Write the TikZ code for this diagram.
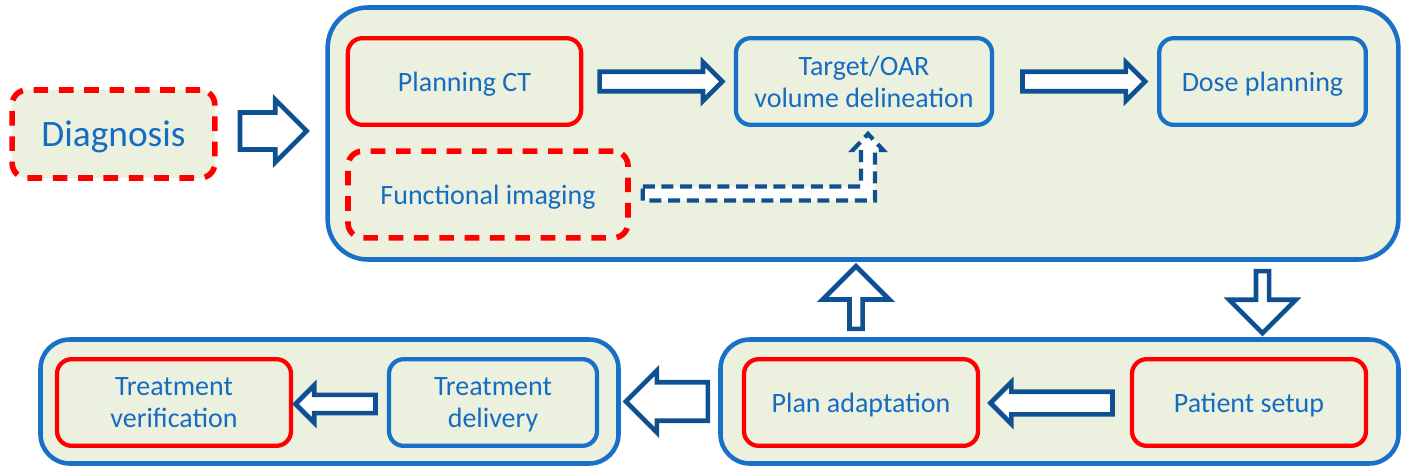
\documentclass[tikz,border=0pt]{standalone}
\usepackage{fontspec}
\setmainfont{Carlito}
\usetikzlibrary{shapes.arrows,calc,positioning}

\definecolor{boxfill}{RGB}{235,241,222}
\definecolor{boxblue}{RGB}{25,112,200}
\definecolor{txtblue}{RGB}{22,108,192}
\definecolor{arrblue}{RGB}{14,80,145}
\definecolor{boxred}{RGB}{255,0,0}

\tikzset{
  box/.style={draw, fill=boxfill, line width=3.2pt, rounded corners=11pt,
    minimum height=65pt, text=txtblue, align=center, text depth=0pt,
    font=\fontsize{21}{24}\selectfont},
  redbox/.style={box, draw=boxred},
  bluebox/.style={box, draw=boxblue},
  dashbox/.style={redbox, line width=4.2pt, dash pattern=on 11pt off 8pt},
  panel/.style={draw=boxblue, fill=boxfill, line width=3.4pt, rounded corners=22pt},
  blk/.style={single arrow, draw=arrblue, fill=white, line width=3.5pt,
    single arrow tip angle=90, single arrow head indent=0pt, inner xsep=0pt,
    anchor=tail},
  dashflow/.style={draw=arrblue, fill=white, line width=3.2pt,
    dash pattern=on 9pt off 5pt, line join=miter}
}

\begin{document}
\begin{tikzpicture}[x=0.75pt, y=-0.75pt]
\useasboundingbox (0,0) rectangle (1404,468);

% panels
\node[panel, rounded corners=30pt, minimum width=803pt, minimum height=189pt] (toppanel) at (863,133.5) {};
\node[panel, minimum width=508.5pt, minimum height=93pt] (rightpanel) at (1059.5,401.5) {};
\node[panel, minimum width=433.5pt, minimum height=93pt] (leftpanel) at (329.5,401.5) {};

% boxes
\node[dashbox, minimum width=152pt, minimum height=66pt, font=\fontsize{28}{32}\selectfont] (diag) at (113.5,134) {Diagnosis};
\node[redbox, minimum width=175pt] (pct) at (464.5,81.5) {Planning CT};
\node[bluebox, minimum width=192pt] (target) at (864,81.5) {Target/OAR\\volume delineation};
\node[bluebox, minimum width=155pt] (dose) at (1262.5,81.5) {Dose planning};
\node[dashbox, minimum width=210pt] (func) at (488,194.5) {Functional imaging};
\node[redbox, minimum width=175.5pt] (adapt) at (861,402.5) {Plan adaptation};
\node[redbox, minimum width=175.5pt] (setup) at (1249,402.5) {Patient setup};
\node[redbox, minimum width=175.5pt] (verif) at (174,402.5) {Treatment\\verification};
\node[bluebox, minimum width=156pt] (deliv) at (493,402.5) {Treatment\\delivery};

% block arrows
\node[blk, minimum height=50pt, minimum width=47pt, inner ysep=8.6pt] (a0)
  at ($(diag.east)+(20,-3)$) {};
\node[blk, minimum height=92pt, minimum width=28pt, inner ysep=5.6pt] (a1)
  at ($(pct.east)+(14,0)$) {};
\node[blk, minimum height=92pt, minimum width=28pt, inner ysep=5.6pt] (a2)
  at ($(target.east)+(26,0)$) {};
\node[blk, shape border rotate=270, minimum height=46.5pt, minimum width=50pt, inner ysep=12pt] (a3)
  at ($(dose.south |- toppanel.south)+(0,7)$) {};
\node[blk, shape border rotate=90, minimum height=47pt, minimum width=50pt, inner ysep=11pt] (a4)
  at ($(adapt.north |- rightpanel.north)+(-5,-6)$) {};
\node[blk, shape border rotate=180, minimum height=61.5pt, minimum width=46.5pt, inner ysep=10pt] (a5)
  at ($(rightpanel.west)+(-8,0)$) {};
\node[blk, shape border rotate=180, minimum height=91.5pt, minimum width=28pt, inner ysep=6.75pt] (a6)
  at ($(setup.west)+(-15,0.5)$) {};
\node[blk, shape border rotate=180, minimum height=60pt, minimum width=28pt, inner ysep=5pt] (a7)
  at ($(deliv.west)+(-9,1.5)$) {};

% dashed elbow arrow
\coordinate (dtail) at ($(func.east)+(12,-1)$);
\coordinate (dtip) at ($(target.south)+(4,7)$);
\draw[dashflow] ($(dtail)+(0,-7)$) -- ($(dtip|-dtail)+(-7,-7)$) -- ($(dtip)+(-7,16)$)
  -- ($(dtip)+(-15,16)$) -- (dtip) -- ($(dtip)+(15,16)$) -- ($(dtip)+(7,16)$)
  -- ($(dtip|-dtail)+(7,7)$) -- ($(dtail)+(0,7)$) -- cycle;
\end{tikzpicture}
\end{document}
